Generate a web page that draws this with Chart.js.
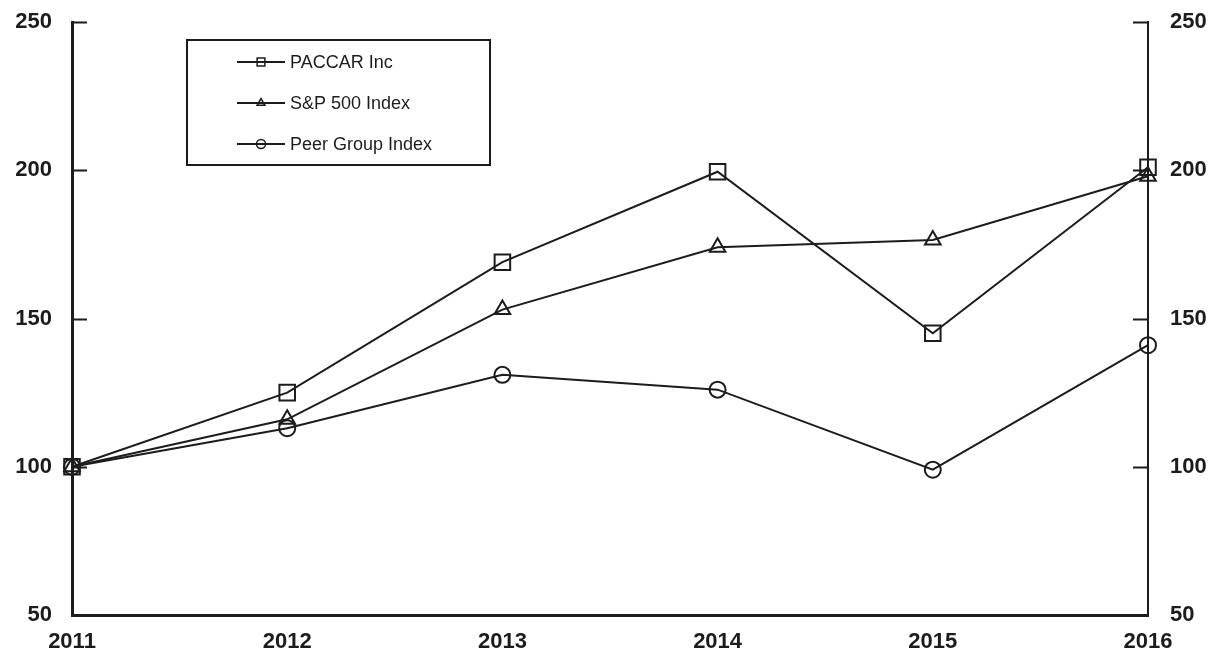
<!DOCTYPE html>
<html>
<head>
<meta charset="utf-8">
<script src="https://cdn.jsdelivr.net/npm/chart.js@4/dist/chart.umd.min.js"></script>
<style>
  html, body { margin: 0; padding: 0; background: #fff; }
  #wrap { width: 1210px; height: 655px; }
</style>
</head>
<body>
<div id="wrap"><canvas id="perf-chart" width="1210" height="655"></canvas></div>
<script>
// values
const years = ['2011', '2012', '2013', '2014', '2015', '2016'];
const paccar = [100, 125, 169, 199.5, 145, 201];
const sp500 = [100, 116, 153, 174, 176.5, 198];
const peerGroup = [100, 113, 131, 126, 99, 141];
const yTicks = [50, 100, 150, 200, 250];

const ink = '#1c1c1c';
const tickFont = { family: 'Liberation Sans, Arial, sans-serif', size: 22, weight: 'bold' };

// inward tick marks on both y axes
const innerTicks = {
  id: 'innerTicks',
  afterDraw(chart) {
    const ctx = chart.ctx;
    const area = chart.chartArea;
    ctx.save();
    ctx.strokeStyle = ink;
    ctx.lineWidth = 2;
    yTicks.forEach((v) => {
      const y = Math.round(chart.scales.y.getPixelForValue(v)) + 0.5;
      ctx.beginPath();
      ctx.moveTo(area.left, y);
      ctx.lineTo(area.left + 15, y);
      ctx.moveTo(area.right, y);
      ctx.lineTo(area.right - 15, y);
      ctx.stroke();
    });
    ctx.restore();
  }
};

// boxed legend in the upper left
const boxLegend = {
  id: 'boxLegend',
  afterDraw(chart) {
    const ctx = chart.ctx;
    ctx.save();
    ctx.strokeStyle = ink;
    ctx.lineWidth = 2;
    ctx.strokeRect(187, 40, 303, 125);
    ctx.font = '18px Liberation Sans, Arial, sans-serif';
    ctx.textBaseline = 'middle';
    chart.data.datasets.forEach((ds, i) => {
      const y = 62 + i * 41;
      ctx.lineWidth = 2;
      ctx.beginPath();
      ctx.moveTo(237, y);
      ctx.lineTo(285, y);
      ctx.stroke();
      ctx.lineWidth = 1.5;
      ctx.fillStyle = 'rgba(0,0,0,0)';
      Chart.helpers.drawPoint(ctx, {
        pointStyle: ds.pointStyle,
        rotation: 0,
        borderWidth: 1.5,
        radius: ds.pointStyle === 'rect' ? 5.5 : 4.5
      }, 261, y);
      ctx.fillStyle = ink;
      ctx.fillText(ds.label, 290, y + 1);
    });
    ctx.restore();
  }
};

const baseSet = {
  borderColor: ink,
  backgroundColor: 'rgba(0,0,0,0)',
  pointBorderColor: ink,
  pointBackgroundColor: 'rgba(0,0,0,0)',
  borderWidth: 2,
  pointBorderWidth: 2,
  tension: 0
};

// keep the plot box fixed: 72..1148 across, 22..615 down
function fitY(width) {
  return (scale) => {
    scale.width = width;
    scale.paddingTop = 0;
    scale.paddingBottom = 0;
  };
}

new Chart(document.getElementById('perf-chart'), {
  type: 'line',
  data: {
    labels: years,
    datasets: [
      Object.assign({}, baseSet, { label: 'PACCAR Inc', data: paccar, pointStyle: 'rect', pointRadius: 11, yAxisID: 'y' }),
      Object.assign({}, baseSet, { label: 'S&P 500 Index', data: sp500, pointStyle: 'triangle', pointRadius: 9, yAxisID: 'y' }),
      Object.assign({}, baseSet, { label: 'Peer Group Index', data: peerGroup, pointStyle: 'circle', pointRadius: 8, yAxisID: 'y' })
    ]
  },
  options: {
    responsive: false,
    animation: false,
    layout: { padding: { top: 22, left: 0, right: 0, bottom: 0 } },
    plugins: {
      legend: { display: false },
      tooltip: { enabled: false }
    },
    scales: {
      x: {
        offset: false,
        grid: { display: false },
        border: { display: true, color: ink, width: 3 },
        ticks: { color: ink, font: tickFont, padding: 6, maxRotation: 0 },
        afterFit(scale) { scale.height = 40; }
      },
      y: {
        position: 'left',
        min: 50, max: 250,
        grid: { display: false },
        border: { display: true, color: ink, width: 3 },
        ticks: { color: ink, font: tickFont, stepSize: 50, padding: 12 },
        afterFit: fitY(72)
      },
      y1: {
        position: 'right',
        min: 50, max: 250,
        grid: { display: false },
        border: { display: true, color: ink, width: 2 },
        ticks: { color: ink, font: tickFont, stepSize: 50, padding: 14 },
        afterFit: fitY(62)
      }
    }
  },
  plugins: [innerTicks, boxLegend]
});
</script>
</body>
</html>
